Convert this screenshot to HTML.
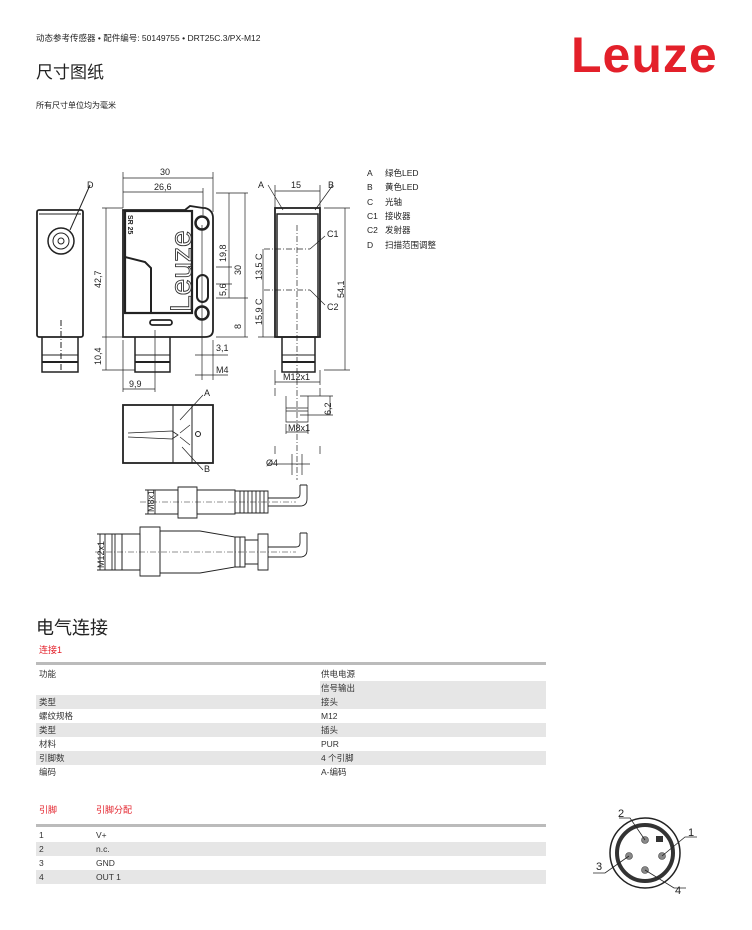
<!DOCTYPE html>
<html><head><meta charset="utf-8"><style>
body{margin:0;background:#fff;}
.w{position:relative;width:752px;height:930px;overflow:hidden;font-family:"Liberation Sans","Noto Sans CJK SC",sans-serif;color:#222;}
.a{position:absolute;white-space:nowrap;}
</style></head><body><div class="w">
<div class="a" style="left:36px;top:32px;font-size:8.5px;">动态参考传感器 • 配件编号: 50149755 • DRT25C.3/PX-M12</div>
<div class="a" style="left:36px;top:58px;font-size:17px;">尺寸图纸</div>
<div class="a" style="left:36px;top:100px;font-size:8px;">所有尺寸单位均为毫米</div>
<div class="a" style="left:571px;top:26px;font-size:50px;font-weight:bold;color:#e3202a;letter-spacing:1px;">Leuze</div>
<div class="a" style="left:36px;top:614px;font-size:18px;">电气连接</div>
<div class="a" style="left:39px;top:643px;font-size:9px;color:#e3202a;">连接1</div>
<div class="a" style="left:39px;top:803px;font-size:9px;color:#e3202a;">引脚</div>
<div class="a" style="left:96px;top:803px;font-size:9px;color:#e3202a;">引脚分配</div>

<svg class="a" style="left:0;top:0" width="752" height="930" font-family="Liberation Sans, Noto Sans CJK SC, sans-serif">
<!-- table 1 -->
<rect x="36" y="662" width="510" height="3" fill="#bbb"/>
<rect x="320" y="681" width="226" height="14" fill="#e6e6e6"/>
<rect x="36" y="695" width="510" height="14" fill="#e6e6e6"/>
<rect x="36" y="723" width="510" height="14" fill="#e6e6e6"/>
<rect x="36" y="751" width="510" height="14" fill="#e6e6e6"/>
<g font-size="8.5" fill="#333">
<text x="39" y="677">功能</text><text x="321" y="677">供电电源</text>
<text x="321" y="691">信号输出</text>
<text x="39" y="705">类型</text><text x="321" y="705">接头</text>
<text x="39" y="719">螺纹规格</text><text x="321" y="719">M12</text>
<text x="39" y="733">类型</text><text x="321" y="733">插头</text>
<text x="39" y="747">材料</text><text x="321" y="747">PUR</text>
<text x="39" y="761">引脚数</text><text x="321" y="761">4 个引脚</text>
<text x="39" y="775">编码</text><text x="321" y="775">A-编码</text>
</g>
<rect x="36" y="824" width="510" height="3" fill="#bbb"/>
<rect x="36" y="842" width="510" height="14" fill="#e6e6e6"/>
<rect x="36" y="870" width="510" height="14" fill="#e6e6e6"/>
<g font-size="8.5" fill="#333">
<text x="39" y="838">1</text><text x="96" y="838">V+</text>
<text x="39" y="852">2</text><text x="96" y="852">n.c.</text>
<text x="39" y="866">3</text><text x="96" y="866">GND</text>
<text x="39" y="880">4</text><text x="96" y="880">OUT 1</text>
</g>
<!-- legend -->
<g font-size="8.5" fill="#222">
<text x="367" y="176">A</text><text x="385" y="176">绿色LED</text>
<text x="367" y="190">B</text><text x="385" y="190">黄色LED</text>
<text x="367" y="205">C</text><text x="385" y="205">光轴</text>
<text x="367" y="219">C1</text><text x="385" y="219">接收器</text>
<text x="367" y="233">C2</text><text x="385" y="233">发射器</text>
<text x="367" y="248">D</text><text x="385" y="248">扫描范围调整</text>
</g>
<!-- pin circle -->
<g stroke="#222" fill="none">
<circle cx="645" cy="853" r="35" stroke-width="1.5"/>
<circle cx="645" cy="853" r="28" stroke-width="4" stroke="#333"/>
<rect x="656" y="836" width="7" height="6" fill="#333" stroke="none"/>
<g fill="#888" stroke="#444" stroke-width="0.6"><circle cx="645" cy="840" r="3.5"/><circle cx="662" cy="856" r="3.5"/><circle cx="629" cy="856" r="3.5"/><circle cx="645" cy="870" r="3.5"/></g>
<g stroke-width="0.8"><path d="M619 818H630L645 840"/><path d="M697 837H685L662 856"/><path d="M593 873H605L629 856"/><path d="M686 888H674L645 870"/></g>
</g>
<g font-size="11" fill="#222"><text x="618" y="817">2</text><text x="688" y="836">1</text><text x="596" y="870">3</text><text x="675" y="894">4</text></g>

<!-- drawings -->
<g stroke="#222" fill="none" stroke-width="1">
<!-- left view D -->
<rect x="37" y="210" width="46" height="127" rx="2" stroke-width="1.8"/>
<line x1="39" y1="214" x2="81" y2="214"/>
<circle cx="61" cy="241" r="13" stroke-width="1.5"/><circle cx="61" cy="241" r="8"/><circle cx="61" cy="241" r="3"/>
<path d="M42 337V372H78V337" stroke-width="1.5"/><line x1="42" y1="355" x2="78" y2="355"/><line x1="42" y1="362" x2="78" y2="362" stroke-width="2"/>
<line x1="61" y1="320" x2="61" y2="370" stroke-dasharray="6,2,1,2"/>
<path d="M70 230L90 185"/>
<!-- main view -->
<path d="M123 337V210H185L190 206L203 208H205Q213 210 213 218V330Q213 337 205 337Z" stroke-width="1.8"/>
<rect x="125" y="211" width="67" height="102" stroke-width="2.2"/>
<path d="M125 257L145 262L151 268V313" stroke-width="2"/>
<circle cx="202" cy="223" r="6.5" stroke-width="2.5"/>
<circle cx="202" cy="313" r="6.5" stroke-width="2.5"/>
<rect x="197" y="275" width="11" height="27" rx="5.5" stroke-width="2"/>
<rect x="150" y="320" width="22" height="5" rx="2.5" stroke-width="1.8"/>
<path d="M135 337V372H170V337" stroke-width="1.5"/><line x1="135" y1="355" x2="170" y2="355"/><line x1="135" y1="362" x2="170" y2="362" stroke-width="2"/>
<!-- dims main -->
<g stroke-width="0.7">
<path d="M123 172V208M213 172V212M203 188V215"/>
<path d="M123 178H213M123 192H203"/>
<path d="M106 208V370M102 208H123M102 337H123M102 370H135"/>
<path d="M123 340V392M155 330V392M123 389H155"/>
<path d="M216 193H248M216 267H232M216 284H232M216 298H248M216 337H248"/>
<path d="M229 193V298M245 193V337"/>
<path d="M202 225V380M213 340V380M195 355H228M195 375H228"/>
</g>
<g font-size="9" fill="#222" stroke="none">
<text x="160" y="175">30</text><text x="154" y="190">26,6</text>
<text x="101" y="288" transform="rotate(-90 101 288)">42,7</text>
<text x="101" y="365" transform="rotate(-90 101 365)">10,4</text>
<text x="129" y="387">9,9</text>
<text x="226" y="262" transform="rotate(-90 226 262)">19,8</text>
<text x="241" y="275" transform="rotate(-90 241 275)">30</text>
<text x="226" y="296" transform="rotate(-90 226 296)">5,6</text>
<text x="241" y="329" transform="rotate(-90 241 329)">8</text>
<text x="216" y="351">3,1</text><text x="216" y="373">M4</text>
</g>
<text x="0" y="0" font-size="30" fill="#fff" stroke="#333" stroke-width="0.9" transform="translate(191,312) rotate(-90)">Leuze</text>
<text x="0" y="0" font-size="7" font-weight="bold" fill="#222" stroke="none" transform="translate(128,215) rotate(90)">SR 25</text>
<!-- right view -->
<rect x="275" y="208" width="45" height="129" stroke-width="1.8"/>
<rect x="277" y="214" width="41" height="123" stroke-width="1.5"/>
<path d="M282 337V372H315V337" stroke-width="1.5"/><line x1="282" y1="355" x2="315" y2="355"/><line x1="282" y1="362" x2="315" y2="362" stroke-width="2"/>
<line x1="297" y1="225" x2="297" y2="480" stroke-dasharray="6,2,1,2" stroke-width="0.7"/>
<path d="M264 249H310M264 290H310" stroke-dasharray="6,2,1,2" stroke-width="0.7"/>
<g stroke-width="0.7">
<path d="M275 185V208M320 185V208M275 191H320M268 185L283 210M333 185L315 210"/>
<path d="M263 249V337M258 337H275M324 208H350M324 370H350M345 208V370"/>
<path d="M310 249L325 236M310 290L325 305"/>
<path d="M275 370V385M320 370V385M275 382H320"/>
<path d="M275 388V396M320 388V396M286 396V422H308V396M300 396H333M300 415H333M330 396V415M286 408H308M286 411H308"/>
<path d="M286 424V434M308 424V434M286 432H308"/>
<path d="M275 446V454M320 446V454M292 454V475M302 454V475M268 464H310"/>
</g>
<g font-size="9" fill="#222" stroke="none">
<text x="291" y="188">15</text><text x="258" y="188">A</text><text x="328" y="188">B</text>
<text x="327" y="237">C1</text><text x="327" y="310">C2</text>
<text x="262" y="280" transform="rotate(-90 262 280)">13,5 C</text>
<text x="262" y="325" transform="rotate(-90 262 325)">15,9 C</text>
<text x="344" y="298" transform="rotate(-90 344 298)">54,1</text>
<text x="283" y="380">M12x1</text>
<text x="331" y="415" transform="rotate(-90 331 415)">6,2</text>
<text x="288" y="431">M8x1</text>
<text x="266" y="466">Ø4</text>
<text x="87" y="188">D</text>
<text x="204" y="396">A</text><text x="204" y="472">B</text>
</g>
<!-- bottom view -->
<rect x="123" y="405" width="90" height="58" stroke-width="1.8"/>
<line x1="173" y1="405" x2="173" y2="463"/><line x1="192" y1="405" x2="192" y2="463"/>
<path d="M128 433L172 431L178 435L172 439L128 437" stroke-width="0.8"/>
<path d="M190 425L180 433M190 445L180 437M203 395L180 420M203 470L182 447" stroke-width="0.7"/>
<circle cx="198" cy="434" r="2.5"/>
<!-- M8 cable -->
<g stroke-width="0.9">
<path d="M155 490H178V514H155Z"/><path d="M178 487H197V518H178Z"/><path d="M197 490H235V514H197Z"/>
<path d="M235 491H268V513H235Z"/>
<path d="M240 491V513M244 491V513M248 491V513M252 491V513M256 491V513M260 491V513M264 491V513"/>
<path d="M268 498H296Q300 498 300 494V485M268 506H300Q307 506 307 499V485M300 485H307"/>
<path d="M145 490H155M145 514H155M148 490V514"/>
<path d="M140 502H296" stroke-dasharray="6,2,1,2" stroke-width="0.6"/>
<path d="M105 534H122V570H105ZM112 534V570M115 534V570"/>
<path d="M122 534H140V570H122Z"/><path d="M140 527H160V576H140Z"/>
<path d="M160 531H200L235 537V567L200 573H160Z"/>
<path d="M235 537H245V567H235ZM240 537V567"/>
<path d="M245 540H258V564H245ZM258 534H268V570H258Z"/>
<path d="M268 547H296Q300 547 300 543V533M268 557H300Q307 557 307 550V533M300 533H307"/>
<path d="M97 534H105M97 570H105M100 534V570"/>
<path d="M95 552H296" stroke-dasharray="6,2,1,2" stroke-width="0.6"/>
</g>
<g font-size="9" fill="#222" stroke="none">
<text x="154" y="512" transform="rotate(-90 154 512)">M8x1</text>
<text x="104" y="568" transform="rotate(-90 104 568)">M12x1</text>
</g>
</g>
</svg>
</div></body></html>
